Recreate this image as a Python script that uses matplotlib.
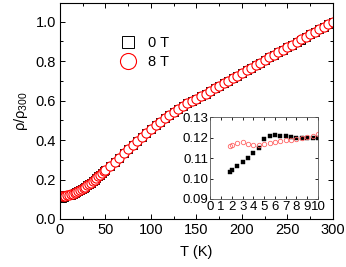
import matplotlib
matplotlib.use("Agg")
import matplotlib.pyplot as plt
from matplotlib.ticker import MultipleLocator

plt.rcParams['font.family'] = ['Liberation Sans', 'DejaVu Sans']
plt.rcParams['mathtext.fontset'] = 'custom'
plt.rcParams['mathtext.rm'] = 'Liberation Sans'
plt.rcParams['mathtext.it'] = 'Liberation Sans'

# ---- main panel data ----
T_main = [2, 4, 6, 8, 10, 12, 14, 16, 18, 20, 22, 24, 26, 28, 30, 32, 34, 36, 38, 40,
          42, 44, 46, 48, 50, 55, 60, 65, 70, 75, 80, 85, 90, 95, 100, 105, 110, 115,
          120, 125, 130, 135, 140, 145, 150, 155, 160, 165, 170, 175, 180, 185, 190,
          195, 200, 205, 210, 215, 220, 225, 230, 235, 240, 245, 250, 255, 260, 265,
          270, 275, 280, 285, 290, 295, 300]
rho_8T = [0.1157, 0.1166, 0.1178, 0.1195, 0.1220, 0.1250, 0.1283, 0.1318, 0.1357, 0.1400,
          0.1455, 0.1512, 0.1570, 0.1632, 0.1700, 0.1772, 0.1846, 0.1922, 0.2000, 0.2080,
          0.2162, 0.2245, 0.2330, 0.2415, 0.2500, 0.2700, 0.2900, 0.3115, 0.3330, 0.3540,
          0.3750, 0.3960, 0.4170, 0.4380, 0.4580, 0.4760, 0.4940, 0.5100, 0.5260, 0.5420,
          0.5580, 0.5720, 0.5860, 0.5990, 0.6100, 0.6230, 0.6360, 0.6490, 0.6620, 0.6750,
          0.6880, 0.7010, 0.7140, 0.7270, 0.7400, 0.7530, 0.7670, 0.7800, 0.7930, 0.8060,
          0.8190, 0.8320, 0.8450, 0.8580, 0.8710, 0.8840, 0.8970, 0.9100, 0.9230, 0.9360,
          0.9490, 0.9620, 0.9750, 0.9880, 1.0000]
rho_0T = [0.1040, 0.1100, 0.1210, 0.1200, 0.1205, 0.1240, 0.1278, 0.1315, 0.1355, 0.1398,
          0.1453, 0.1510, 0.1568, 0.1630, 0.1698, 0.1770, 0.1844, 0.1920, 0.1998, 0.2078,
          0.2160, 0.2243, 0.2328, 0.2413, 0.2498, 0.2698, 0.2898, 0.3113, 0.3328, 0.3538,
          0.3748, 0.3958, 0.4168, 0.4378, 0.4578, 0.4758, 0.4938, 0.5098, 0.5258, 0.5418,
          0.5578, 0.5718, 0.5858, 0.5988, 0.6098, 0.6228, 0.6358, 0.6488, 0.6618, 0.6748,
          0.6878, 0.7008, 0.7138, 0.7268, 0.7398, 0.7528, 0.7668, 0.7798, 0.7928, 0.8058,
          0.8188, 0.8318, 0.8448, 0.8578, 0.8708, 0.8838, 0.8968, 0.9098, 0.9228, 0.9358,
          0.9488, 0.9618, 0.9748, 0.9878, 1.0000]

# ---- inset data ----
T_in = [1.8, 2.0, 2.5, 3.0, 3.5, 4.0, 4.5, 5.0, 5.5, 6.0, 6.5, 7.0, 7.5, 8.0, 8.5, 9.0, 9.5, 10.0]
rho_in_0T = [0.1033, 0.1040, 0.1061, 0.1080, 0.1100, 0.1124, 0.1147, 0.1193, 0.1207, 0.1210,
             0.1209, 0.1205, 0.1201, 0.1200, 0.1198, 0.1198, 0.1198, 0.1199]
rho_in_8T = [0.1157, 0.1165, 0.1173, 0.1177, 0.1170, 0.1162, 0.1163, 0.1168, 0.1172, 0.1178,
             0.1182, 0.1186, 0.1189, 0.1193, 0.1196, 0.1202, 0.1208, 0.1215]

legend_labels = ['0 T', '8 T']

fig = plt.figure(figsize=(3.46, 2.67), dpi=100)
ax = fig.add_axes([0.1734, 0.1798, 0.789, 0.809])

l0, = ax.plot(T_main, rho_0T, linestyle='none', marker='s', ms=5.2, mfc='none',
              mec='black', mew=0.7, label=legend_labels[0])
l1, = ax.plot(T_main, rho_8T, linestyle='none', marker='o', ms=6.6, mfc='white',
              mec='#ff0000', mew=0.8, label=legend_labels[1])

ax.set_xlim(0, 300)
ax.set_ylim(0, 1.095)
ax.xaxis.set_major_locator(MultipleLocator(50))
ax.xaxis.set_minor_locator(MultipleLocator(25))
ax.yaxis.set_major_locator(MultipleLocator(0.2))
ax.yaxis.set_minor_locator(MultipleLocator(0.1))
ax.yaxis.set_major_formatter(matplotlib.ticker.FormatStrFormatter('%.1f'))
ax.tick_params(which='both', direction='in', top=True, right=True, labelsize=10.5, width=0.7)
ax.tick_params(which='major', length=3.5, pad=3)
ax.tick_params(which='minor', length=2)
for s in ax.spines.values():
    s.set_linewidth(0.8)
ax.set_xlabel('T (K)', fontsize=10.5, labelpad=6)
ax.set_ylabel('ρ/ρ$_{300}$', fontsize=10.5, labelpad=4)

leg = ax.legend(handles=[l0, l1], loc='upper left', bbox_to_anchor=(0.185, 0.893),
                frameon=False, markerscale=1.75, handlelength=1.0, handletextpad=0.9,
                fontsize=10.5, borderpad=0.2, labelspacing=0.35)
leg.legend_handles[1].set_markerfacecolor('none')

# ---- inset ----
axi = fig.add_axes([0.608, 0.2547, 0.311, 0.307])
axi.plot(T_in, rho_in_0T, linestyle='none', marker='s', ms=2.7, mfc='black', mec='black', mew=0.3)
axi.plot(T_in, rho_in_8T, linestyle='none', marker='o', ms=3.2, mfc='none', mec='#ff6464', mew=0.6)
axi.set_xlim(0, 10)
axi.set_ylim(0.09, 0.13)
axi.xaxis.set_major_locator(MultipleLocator(1))
axi.yaxis.set_major_locator(MultipleLocator(0.01))
axi.yaxis.set_major_formatter(matplotlib.ticker.FormatStrFormatter('%.2f'))
axi.tick_params(which='both', direction='in', top=True, right=True, labelsize=9.5,
                length=2.5, width=0.6, pad=1.5)
for s in axi.spines.values():
    s.set_linewidth(0.6)
    s.set_color('#555555')

fig.savefig('out.png', dpi=100)
